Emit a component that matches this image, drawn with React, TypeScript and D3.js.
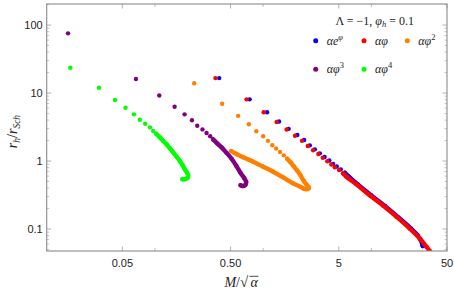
import React from 'react';
import * as d3 from 'd3';

// ---------- data ----------
const xTickValues = [0.05, 0.5, 5, 50];
const xTickLabels = ['0.05', '0.50', '5', '50'];
const xMinorTickValues = [0.1, 1, 10];
const yTickValues = [0.1, 1, 10, 100];
const yTickLabels = ['0.1', '1', '10', '100'];

// alpha e^phi
const blueX = [0.3925, 0.75, 1.086, 1.402, 1.72, 2.069, 2.391, 2.699, 3.002, 3.339, 3.698, 4.086, 4.43, 4.792, 5.218, 5.68, 6.12, 7.49, 9.98, 13.3, 17.72, 23.36, 26.82, 28.58, 29.83];
const blueY = [16.6, 8.08, 5.22, 3.81, 2.975, 2.412, 2.036, 1.702, 1.486, 1.298, 1.145, 1.017, 0.909, 0.83, 0.755, 0.672, 0.6, 0.451, 0.311, 0.218, 0.1485, 0.1007, 0.0802, 0.0689, 0.0562];
// alpha phi
const redX = [0.362, 0.703, 1.011, 1.333, 1.648, 1.97, 2.286, 2.586, 2.895, 3.234, 3.557, 3.915, 4.264, 4.592, 5.03, 5.48, 5.89, 7.28, 9.66, 12.83, 17.05, 22.6, 28.0, 32.3, 34.6];
const redY = [16.6, 8.08, 5.22, 3.75, 2.905, 2.355, 1.98, 1.663, 1.442, 1.267, 1.118, 0.993, 0.888, 0.811, 0.737, 0.659, 0.587, 0.454, 0.313, 0.222, 0.152, 0.1017, 0.0724, 0.0549, 0.0475];
// alpha phi^2
const orangeX = [0.2307, 0.418, 0.587, 0.738, 0.865, 1.0, 1.107, 1.216, 1.318, 1.432, 1.553, 1.666, 1.791, 1.92, 2.06, 2.206, 2.375, 2.533, 2.642, 2.586, 2.375, 2.26, 1.89, 1.53, 1.237, 1.0, 0.809, 0.653, 0.567, 0.507];
const orangeY = [13.9, 6.97, 4.62, 3.48, 2.74, 2.31, 1.98, 1.71, 1.53, 1.356, 1.213, 1.081, 0.957, 0.836, 0.725, 0.622, 0.508, 0.4436, 0.4076, 0.3876, 0.3915, 0.41, 0.47, 0.575, 0.697, 0.824, 0.977, 1.132, 1.267, 1.4];
// alpha phi^3
const purpleX = [0.01574, 0.0668, 0.1097, 0.152, 0.188, 0.22, 0.246, 0.275, 0.3, 0.324, 0.345, 0.376, 0.413, 0.459, 0.511, 0.567, 0.622, 0.668, 0.697, 0.685, 0.65, 0.6185];
const purpleY = [75.5, 16.1, 9.18, 6.3, 4.86, 3.97, 3.3, 2.92, 2.58, 2.31, 2.08, 1.82, 1.59, 1.32, 1.08, 0.843, 0.659, 0.562, 0.491, 0.443, 0.429, 0.44];
// alpha phi^4
const greenX = [0.0165, 0.0304, 0.0428, 0.0535, 0.064, 0.0726, 0.0813, 0.09, 0.0964, 0.1028, 0.111, 0.1194, 0.128, 0.1374, 0.1476, 0.1585, 0.17, 0.18, 0.189, 0.1975, 0.203, 0.1995, 0.189, 0.1795];
const greenY = [23.5, 11.97, 7.89, 6.08, 4.86, 4.05, 3.54, 3.13, 2.76, 2.52, 2.23, 1.97, 1.76, 1.54, 1.34, 1.156, 1.0, 0.873, 0.755, 0.678, 0.612, 0.562, 0.54, 0.54];

// index where the sampled points become so dense they merge into a band
const blueDenseFrom = 15;
const redDenseFrom = 15;
const orangeDenseFrom = 11;
const purpleDenseFrom = 10;
const greenDenseFrom = 9;

// ---------- layout ----------
const W = 454;
const H = 294;
const PL = 46.7;
const PR = 447;
const PT = 4;
const PB = 251;
const R = 2.2;

const serif = '"Liberation Serif", "DejaVu Serif", serif';
const sans = '"Liberation Sans", Arial, sans-serif';

export default function App() {
  const x = d3.scaleLog().domain([0.01, 50]).range([PL, PR]);
  const y = d3.scaleLog().domain([0.0475, 204]).range([PB, PT]);

  const series = [
    { key: 'b', xs: blueX, ys: blueY, dense: blueDenseFrom, color: '#0000ff' },
    { key: 'r', xs: redX, ys: redY, dense: redDenseFrom, color: '#ff0000' },
    { key: 'o', xs: orangeX, ys: orangeY, dense: orangeDenseFrom, color: '#ff8000' },
    { key: 'p', xs: purpleX, ys: purpleY, dense: purpleDenseFrom, color: '#800080' },
    { key: 'g', xs: greenX, ys: greenY, dense: greenDenseFrom, color: '#00ff00' },
  ];

  const line = d3
    .line<[number, number]>()
    .x((d) => x(d[0]))
    .y((d) => y(d[1]))
    .curve(d3.curveCatmullRom);

  const yMinor: number[] = [];
  for (let e = -2; e <= 2; e++) {
    for (let k = 2; k <= 9; k++) {
      const v = k * Math.pow(10, e);
      if (v > 0.0475 && v < 204) yMinor.push(v);
    }
  }

  const frameColor = '#8a8a8a';
  const tickColor = '#a0a0a0';

  const legendRows = [
    { cx: 315.7, cy: 40.7, color: '#0000ff', sup: 'φ', base: 'αe' },
    { cx: 364, cy: 40.7, color: '#ff0000', sup: '', base: 'αφ' },
    { cx: 407.3, cy: 40.7, color: '#ff8000', sup: '2', base: 'αφ' },
    { cx: 315.7, cy: 69.3, color: '#800080', sup: '3', base: 'αφ' },
    { cx: 364, cy: 69.3, color: '#00ff00', sup: '4', base: 'αφ' },
  ];

  return (
    <svg
      width={W}
      height={H}
      style={{ position: 'absolute', left: 0, top: 0, background: '#fff' }}
    >
      <defs>
        <clipPath id="plotClip">
          <rect x={PL} y={PT} width={PR - PL} height={PB - PT} />
        </clipPath>
      </defs>
      <rect x={0} y={0} width={W} height={H} fill="#fff" />

      {/* data */}
      <g clipPath="url(#plotClip)">
        {series.map((s) => {
          const pts: [number, number][] = s.xs.map((v, i) => [v, s.ys[i]]);
          const densePts = pts.slice(s.dense);
          return (
            <g key={s.key}>
              <path
                d={line(densePts) || ''}
                fill="none"
                stroke={s.color}
                strokeWidth={2 * R}
                strokeLinecap="round"
                strokeLinejoin="round"
              />
              {pts.map((p, i) => (
                <circle key={i} cx={x(p[0])} cy={y(p[1])} r={R} fill={s.color} />
              ))}
            </g>
          );
        })}
      </g>

      {/* frame ticks */}
      {yTickValues.map((v) => (
        <g key={'yt' + v}>
          <line x1={PL} x2={PL + 4.5} y1={y(v)} y2={y(v)} stroke={tickColor} strokeWidth={0.8} />
          <line x1={PR} x2={PR - 4.5} y1={y(v)} y2={y(v)} stroke={tickColor} strokeWidth={0.8} />
        </g>
      ))}
      {yMinor.map((v) => (
        <g key={'ym' + v}>
          <line x1={PL} x2={PL + 2.5} y1={y(v)} y2={y(v)} stroke={tickColor} strokeWidth={0.6} />
          <line x1={PR} x2={PR - 2.5} y1={y(v)} y2={y(v)} stroke={tickColor} strokeWidth={0.6} />
        </g>
      ))}
      {xTickValues.map((v) => (
        <g key={'xt' + v}>
          <line x1={x(v)} x2={x(v)} y1={PB} y2={PB - 4.5} stroke={tickColor} strokeWidth={0.8} />
          <line x1={x(v)} x2={x(v)} y1={PT} y2={PT + 4.5} stroke={tickColor} strokeWidth={0.8} />
        </g>
      ))}
      {xMinorTickValues.map((v) => (
        <g key={'xm' + v}>
          <line x1={x(v)} x2={x(v)} y1={PB} y2={PB - 3} stroke={tickColor} strokeWidth={0.7} />
          <line x1={x(v)} x2={x(v)} y1={PT} y2={PT + 3} stroke={tickColor} strokeWidth={0.7} />
        </g>
      ))}

      <rect
        x={PL}
        y={PT}
        width={PR - PL}
        height={PB - PT}
        fill="none"
        stroke={frameColor}
        strokeWidth={1.1}
      />

      {/* tick labels */}
      {yTickValues.map((v, i) => (
        <text
          key={'yl' + v}
          x={PL - 4}
          y={y(v) + 4}
          textAnchor="end"
          fontFamily={sans}
          fontSize={11}
          fill="#222"
        >
          {yTickLabels[i]}
        </text>
      ))}
      {xTickValues.map((v, i) => (
        <text
          key={'xl' + v}
          x={x(v)}
          y={PB + 16}
          textAnchor="middle"
          fontFamily={sans}
          fontSize={11}
          fill="#222"
        >
          {xTickLabels[i]}
        </text>
      ))}

      {/* axis labels */}
      <g fontFamily={serif} fontSize={14} fill="#222">
        <text x={240} y={287} textAnchor="end" fontStyle="italic">
          M<tspan fontStyle="normal">/</tspan>
        </text>
        <text x={240} y={287} fontSize={15}>√</text>
        <text x={250.5} y={287} fontStyle="italic">α</text>
        <line x1={249.5} x2={258.5} y1={276.3} y2={276.3} stroke="#222" strokeWidth={0.8} />
      </g>
      <text
        transform={`translate(17, ${(PT + PB) / 2 + 4}) rotate(-90)`}
        textAnchor="middle"
        fontFamily={serif}
        fontSize={14}
        fill="#222"
        fontStyle="italic"
      >
        r<tspan fontSize={9.5} dy={3}>h</tspan>
        <tspan dy={-3} fontStyle="normal">/</tspan>r
        <tspan fontSize={9.5} dy={3}>Sch</tspan>
      </text>

      {/* legend */}
      <text x={374.7} y={24.5} textAnchor="middle" fontFamily={serif} fontSize={12} fill="#222">
        Λ = −1, <tspan fontStyle="italic">φ</tspan>
        <tspan fontSize={8.5} fontStyle="italic" dy={2.5}>h</tspan>
        <tspan dy={-2.5}> = 0.1</tspan>
      </text>
      {legendRows.map((l, i) => (
        <g key={'lg' + i}>
          <circle cx={l.cx} cy={l.cy} r={R + 0.3} fill={l.color} />
          <text
            x={l.cx + 11}
            y={l.cy + 4}
            fontFamily={serif}
            fontSize={12}
            fontStyle="italic"
            fill="#222"
          >
            {l.base}
            {l.sup ? (
              <tspan
                fontSize={8.5}
                dy={-5}
                fontStyle={l.sup === 'φ' ? 'italic' : 'normal'}
              >
                {l.sup}
              </tspan>
            ) : null}
          </text>
        </g>
      ))}
    </svg>
  );
}
